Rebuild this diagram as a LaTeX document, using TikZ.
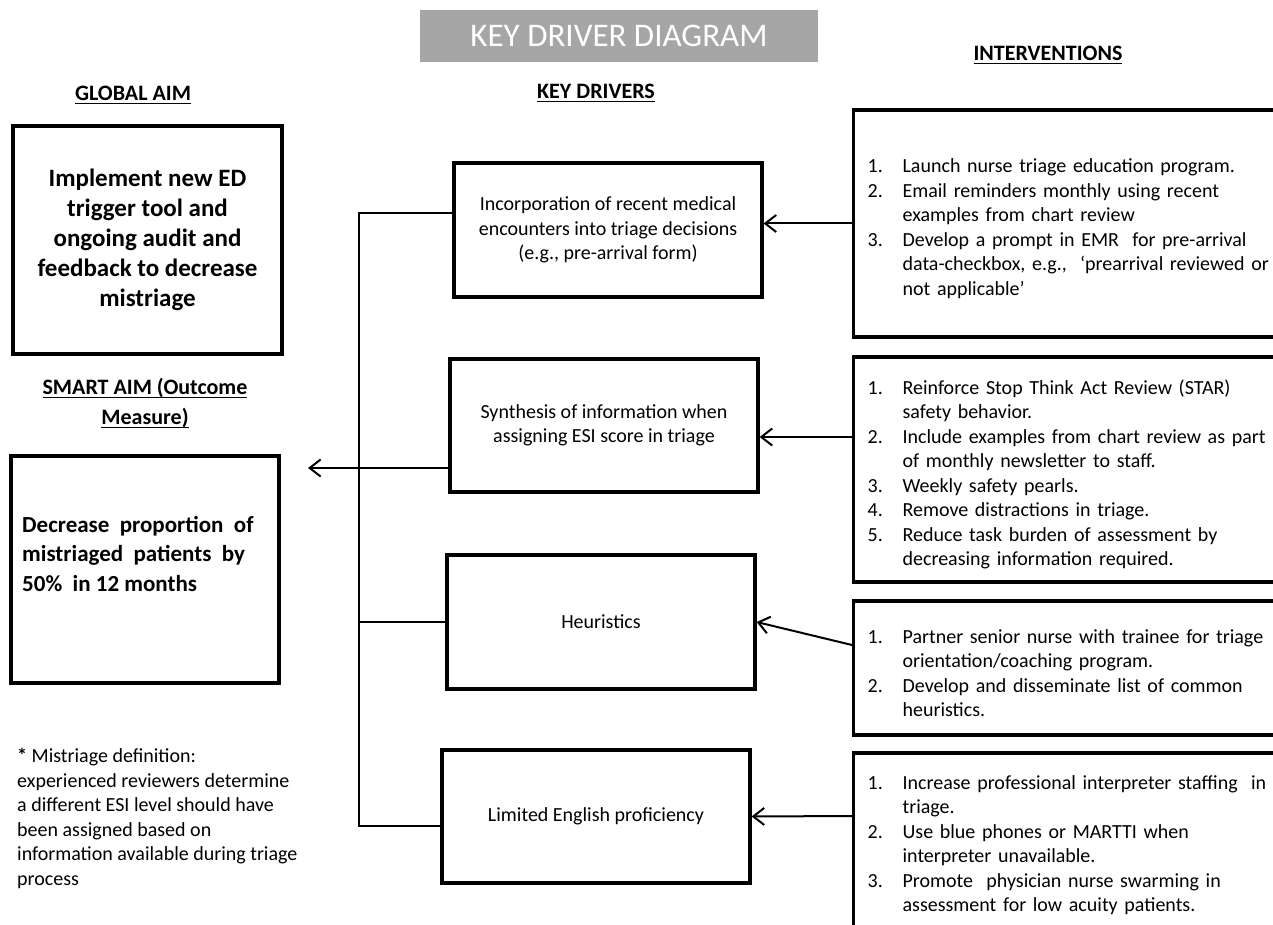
\documentclass[tikz,border=0pt]{standalone}
\usepackage{fontspec}
\setmainfont{Carlito}
\usetikzlibrary{arrows.meta, positioning}

\definecolor{titlegray}{RGB}{166,166,166}
\newcommand{\intv}[2]{\par\hangindent=35pt\hangafter=1\noindent\makebox[35pt][l]{#1}#2\par}
\newcommand{\headul}[1]{\setbox0\hbox{#1}\rlap{\rule[-4pt]{\wd0}{1.6pt}}\box0}

\begin{document}
\begin{tikzpicture}[x=1pt, y=-1pt,
    heading/.style={font=\fontsize{22}{30}\selectfont\bfseries, align=center},
    aimbox/.style={draw, rectangle, line width=3.2pt, minimum width=269pt, minimum height=228pt},
    driver/.style={draw, rectangle, line width=3.2pt, minimum width=308pt, minimum height=134pt, align=center, font=\fontsize{20}{24.5}\selectfont},
    interv/.style={draw, rectangle, line width=3.2pt, anchor=west, text width=412pt, inner xsep=14pt, align=left, font=\fontsize{20}{24.5}\selectfont},
    link/.style={line width=2pt},
    arrow/.style={line width=2pt, -{Straight Barb[length=11pt, width=17pt]}}]

    \useasboundingbox (0,0) rectangle (1273,925);

    % Headings
    \node[fill=titlegray, minimum width=398pt, minimum height=52pt, text=white, font=\fontsize{33}{38}\selectfont] (title) at (619,36) {KEY DRIVER DIAGRAM};
    \node[heading] (gaimhead) at (133,95) {\headul{GLOBAL AIM}};
    \node[heading] (drivhead) at (596,93) {\headul{KEY DRIVERS}};
    \node[heading] (intvhead) at (1048,55) {\headul{INTERVENTIONS}};

    % Aims
    \node[aimbox, align=center, font=\fontsize{25}{30}\selectfont\bfseries] (gaim) at (147.5,240) {Implement new ED\\trigger tool and\\ongoing audit and\\feedback to decrease\\mistriage};
    \node[heading] (saimhead) at (145,403) {\headul{SMART AIM (Outcome}\\\headul{Measure)}};
    \node[aimbox, minimum width=268pt, minimum height=227pt] (saim) at (145,569.5) {};
    \node[anchor=north west, inner sep=0pt, align=left, font=\fontsize{23}{29.5}\selectfont\bfseries] (saimtxt) at (22,516) {Decrease~ proportion~ of\\mistriaged~ patients~ by\\50\%~ in 12 months};
    \node[anchor=north west, inner sep=0pt, align=left, font=\fontsize{20}{24.6}\selectfont] (note) at (17,748) {\textbf{*} Mistriage definition:\\experienced reviewers determine\\a different ESI level should have\\been assigned based on\\information available during triage\\process};

    % Key drivers
    \node[driver] (d1) at (608,230) {Incorporation of recent medical\\encounters into triage decisions\\(e.g., pre-arrival form)};
    \node[driver, minimum height=133pt] (d2) at (604,425.5) {Synthesis of information when\\assigning ESI score in triage};
    \node[driver] (d3) at (601,622) {Heuristics};
    \node[driver, minimum height=133pt] (d4) at (596,816.5) {Limited English proficiency};

    % Interventions
    \node[interv, minimum height=227pt] (i1) at (852,223.5) {\raggedright
        \intv{1.}{Launch nurse triage education program.}
        \intv{2.}{Email reminders monthly using recent\newline examples from chart review}
        \intv{3.}{Develop a prompt in EMR~ for pre-arrival\newline data-checkbox, e.g.,~ `prearrival reviewed or\newline not applicable'}};
    \node[interv, minimum height=225pt] (i2) at (852,469.5) {\raggedright
        \intv{1.}{Reinforce Stop Think Act Review (STAR)\newline safety behavior.}
        \intv{2.}{Include examples from chart review as part\newline of monthly newsletter to staff.}
        \intv{3.}{Weekly safety pearls.}
        \intv{4.}{Remove distractions in triage.}
        \intv{5.}{Reduce task burden of assessment by\newline decreasing information required.}};
    \node[interv, minimum height=134pt] (i3) at (852,668) {\raggedright
        \intv{1.}{Partner senior nurse with trainee for triage\newline orientation/coaching program.}
        \intv{2.}{Develop and disseminate list of common\newline heuristics.}};
    \node[interv, minimum height=174pt] (i4) at (852,840) {\raggedright
        \intv{1.}{Increase professional interpreter staffing~ in\newline triage.}
        \intv{2.}{Use blue phones or MARTTI when\newline interpreter unavailable.}
        \intv{3.}{Promote~ physician nurse swarming in\newline assessment for low acuity patients.}};

    % Connectors
    \coordinate (bustop) at (359,213);
    \coordinate (busbot) at (359,826);
    \coordinate (aimtip) at (308,468);
    \draw[link] ([yshift=17pt]d1.west) -- (bustop) -- (busbot) -- (busbot -| d4.west);
    \draw[link] (d3.west) -- (d3.west -| bustop);
    \draw[arrow] ([yshift=-42.5pt]d2.west) -- (aimtip);
    \draw[arrow] (i1.west) -- (i1.west -| d1.east);
    \draw[arrow] ([yshift=32.5pt]i2.west) -- ([yshift=-11.5pt]d2.east);
    \draw[arrow] ([yshift=23pt]i3.west) -- (d3.east);
    \draw[arrow] ([yshift=24pt]i4.west) -- (d4.east);

\end{tikzpicture}
\end{document}
